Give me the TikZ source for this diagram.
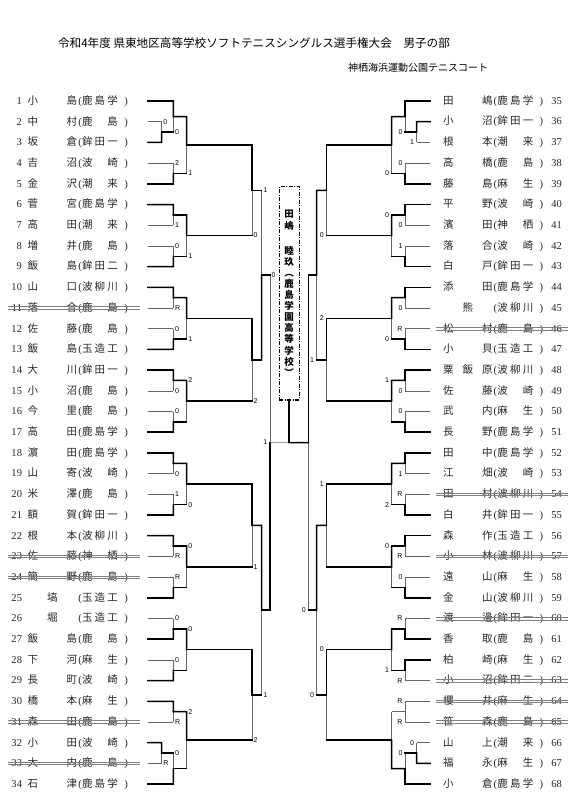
\documentclass[tikz,border=0pt]{standalone}
\usepackage{fontspec}
\setmainfont{Liberation Serif}
\setsansfont{Liberation Sans}
\newfontfamily\jp{Noto Sans CJK JP}
\usetikzlibrary{positioning, calc}

% entry text, left and right half
\newcommand\lent[5]{\makebox[140pt][l]{\makebox[14pt][r]{\rmfamily #1}\hspace{5pt}\makebox[12pt]{#2}\makebox[27pt]{#3}\makebox[12pt]{#4}\makebox[4pt]{\rmfamily(}\makebox[36pt][s]{#5}\hspace{6pt}\makebox[4pt]{\rmfamily)}}}
\newcommand\rent[5]{\makebox[140pt][l]{\hspace*{12pt}\makebox[12pt]{#2}\makebox[27pt]{#3}\makebox[12pt]{#4}\makebox[4pt]{\rmfamily(}\makebox[36pt][s]{#5}\hspace{6pt}\makebox[4pt]{\rmfamily)}\hspace{8pt}\makebox[14pt][l]{\rmfamily #1}}}

% one match: top, bottom, column, result, top style, bottom style, winner (t/b/n), score corner, score
\newcommand\bout[9]{%
  \coordinate (#4t) at (#1 -| #3);
  \coordinate (#4b) at (#2 -| #3);
  \coordinate (#4) at ($(#4t)!.5!(#4b)$);
  \draw[lose] (#4t) -- (#4b);
  \draw[#5] (#1) -- (#4t);
  \draw[#6] (#2) -- (#4b);
  \if t#7\draw[win] (#1) -- (#4t) -- (#4);\fi
  \if b#7\draw[win] (#2) -- (#4b) -- (#4);\fi
  \node[sc] (#4s) at (#4#8) {#9};
}

\begin{document}
\begin{tikzpicture}[x=1pt, y=-1pt,
        node distance=0pt,
        entry/.style={inner sep=0pt, minimum height=20.3pt, font=\jp\fontsize{10.5}{12}\selectfont, text=black!85},
        win/.style={line width=1.5pt, line cap=rect},
        lose/.style={line width=0.6pt, black!60},
        strike/.style={line width=0.5pt, black!50},
        scl/.style={font=\sffamily\fontsize{7}{8}\selectfont, anchor=west, inner sep=0pt, xshift=1.5pt},
        scr/.style={font=\sffamily\fontsize{7}{8}\selectfont, anchor=east, inner sep=0pt, xshift=-2.5pt},
        sc/.style={scl},
        champbox/.style={draw, line width=1.1pt, dash pattern=on 4pt off 1.5pt on 1pt off 1.5pt, minimum width=20pt, minimum height=213.3pt, inner sep=0pt, align=center, font=\jp\bfseries\fontsize{9.5}{11.1}\selectfont}
    ]
    \useasboundingbox[fill=white] (0,0) rectangle (586,800);

    % Heading
    \node[font=\jp\fontsize{11.6}{13}\selectfont] (title) at (254,43.3) {令和4年度 県東地区高等学校ソフトテニスシングルス選手権大会　男子の部};
    \node[font=\jp\fontsize{10}{12}\selectfont] (venue) at (418,68) {神栖海浜運動公園テニスコート};

    % Columns
    \coordinate (ca) at (161.7,0);
    \coordinate (cb) at (173.3,0);
    \coordinate (cc) at (186.7,0);
    \coordinate (cd) at (252,0);
    \coordinate (ce) at (261.7,0);
    \coordinate (cf) at (270,0);
    \coordinate (ra) at (416.7,0);
    \coordinate (rb) at (405.1,0);
    \coordinate (rc) at (391.7,0);
    \coordinate (rd) at (326.4,0);
    \coordinate (re) at (316.7,0);
    \coordinate (rf) at (308.4,0);

    % Left half
    \node[entry] (p1) at (78,101) {\lent{1}{小}{}{島}{鹿 島 学}};
    \node[entry, below=of p1] (p2) {\lent{2}{中}{}{村}{鹿 島}};
    \node[entry, below=of p2] (p3) {\lent{3}{坂}{}{倉}{鉾 田 一}};
    \node[entry, below=of p3] (p4) {\lent{4}{吉}{}{沼}{波 崎}};
    \node[entry, below=of p4] (p5) {\lent{5}{金}{}{沢}{潮 来}};
    \node[entry, below=of p5] (p6) {\lent{6}{菅}{}{宮}{鹿 島 学}};
    \node[entry, below=of p6] (p7) {\lent{7}{高}{}{田}{潮 来}};
    \node[entry, below=of p7] (p8) {\lent{8}{増}{}{井}{鹿 島}};
    \node[entry, below=of p8] (p9) {\lent{9}{飯}{}{島}{鉾 田 二}};
    \node[entry, below=of p9] (p10) {\lent{10}{山}{}{口}{波 柳 川}};
    \node[entry, below=of p10] (p11) {\lent{11}{落}{}{合}{鹿 島}};
    \node[entry, below=of p11] (p12) {\lent{12}{佐}{}{藤}{鹿 島}};
    \node[entry, below=of p12] (p13) {\lent{13}{飯}{}{島}{玉 造 工}};
    \node[entry, below=of p13] (p14) {\lent{14}{大}{}{川}{鉾 田 一}};
    \node[entry, below=of p14] (p15) {\lent{15}{小}{}{沼}{鹿 島}};
    \node[entry, below=of p15] (p16) {\lent{16}{今}{}{里}{鹿 島}};
    \node[entry, below=of p16] (p17) {\lent{17}{高}{}{田}{鹿 島 学}};
    \node[entry, below=of p17] (p18) {\lent{18}{濵}{}{田}{鹿 島 学}};
    \node[entry, below=of p18] (p19) {\lent{19}{山}{}{寄}{波 崎}};
    \node[entry, below=of p19] (p20) {\lent{20}{米}{}{澤}{鹿 島}};
    \node[entry, below=of p20] (p21) {\lent{21}{額}{}{賀}{鉾 田 一}};
    \node[entry, below=of p21] (p22) {\lent{22}{根}{}{本}{波 柳 川}};
    \node[entry, below=of p22] (p23) {\lent{23}{佐}{}{藤}{神 栖}};
    \node[entry, below=of p23] (p24) {\lent{24}{簡}{}{野}{鹿 島}};
    \node[entry, below=of p24] (p25) {\lent{25}{}{塙}{}{玉 造 工}};
    \node[entry, below=of p25] (p26) {\lent{26}{}{堀}{}{玉 造 工}};
    \node[entry, below=of p26] (p27) {\lent{27}{飯}{}{島}{鹿 島}};
    \node[entry, below=of p27] (p28) {\lent{28}{下}{}{河}{麻 生}};
    \node[entry, below=of p28] (p29) {\lent{29}{長}{}{町}{波 崎}};
    \node[entry, below=of p29] (p30) {\lent{30}{橋}{}{本}{麻 生}};
    \node[entry, below=of p30] (p31) {\lent{31}{森}{}{田}{鹿 島}};
    \node[entry, below=of p31] (p32) {\lent{32}{小}{}{田}{波 崎}};
    \node[entry, below=of p32] (p33) {\lent{33}{大}{}{内}{鹿 島}};
    \node[entry, below=of p33] (p34) {\lent{34}{石}{}{津}{鹿 島 学}};

    % Right half
    \node[entry] (p35) at (500.4,101) {\rent{35}{田}{}{嶋}{鹿 島 学}};
    \node[entry, below=of p35] (p36) {\rent{36}{小}{}{沼}{鉾 田 一}};
    \node[entry, below=of p36] (p37) {\rent{37}{根}{}{本}{潮 来}};
    \node[entry, below=of p37] (p38) {\rent{38}{高}{}{橋}{鹿 島}};
    \node[entry, below=of p38] (p39) {\rent{39}{藤}{}{島}{麻 生}};
    \node[entry, below=of p39] (p40) {\rent{40}{平}{}{野}{波 崎}};
    \node[entry, below=of p40] (p41) {\rent{41}{濱}{}{田}{神 栖}};
    \node[entry, below=of p41] (p42) {\rent{42}{落}{}{合}{波 崎}};
    \node[entry, below=of p42] (p43) {\rent{43}{白}{}{戸}{鉾 田 一}};
    \node[entry, below=of p43] (p44) {\rent{44}{添}{}{田}{鹿 島 学}};
    \node[entry, below=of p44] (p45) {\rent{45}{}{熊}{}{波 柳 川}};
    \node[entry, below=of p45] (p46) {\rent{46}{松}{}{村}{鹿 島}};
    \node[entry, below=of p46] (p47) {\rent{47}{小}{}{貝}{玉 造 工}};
    \node[entry, below=of p47] (p48) {\rent{48}{粟}{飯}{原}{波 柳 川}};
    \node[entry, below=of p48] (p49) {\rent{49}{佐}{}{藤}{波 崎}};
    \node[entry, below=of p49] (p50) {\rent{50}{武}{}{内}{麻 生}};
    \node[entry, below=of p50] (p51) {\rent{51}{長}{}{野}{鹿 島 学}};
    \node[entry, below=of p51] (p52) {\rent{52}{田}{}{中}{鹿 島 学}};
    \node[entry, below=of p52] (p53) {\rent{53}{江}{}{畑}{波 崎}};
    \node[entry, below=of p53] (p54) {\rent{54}{田}{}{村}{波 柳 川}};
    \node[entry, below=of p54] (p55) {\rent{55}{白}{}{井}{鉾 田 一}};
    \node[entry, below=of p55] (p56) {\rent{56}{森}{}{作}{玉 造 工}};
    \node[entry, below=of p56] (p57) {\rent{57}{小}{}{林}{波 柳 川}};
    \node[entry, below=of p57] (p58) {\rent{58}{遠}{}{山}{麻 生}};
    \node[entry, below=of p58] (p59) {\rent{59}{金}{}{山}{波 柳 川}};
    \node[entry, below=of p59] (p60) {\rent{60}{渡}{}{邊}{鉾 田 一}};
    \node[entry, below=of p60] (p61) {\rent{61}{香}{}{取}{鹿 島}};
    \node[entry, below=of p61] (p62) {\rent{62}{柏}{}{崎}{麻 生}};
    \node[entry, below=of p62] (p63) {\rent{63}{小}{}{沼}{鉾 田 二}};
    \node[entry, below=of p63] (p64) {\rent{64}{櫻}{}{井}{麻 生}};
    \node[entry, below=of p64] (p65) {\rent{65}{笹}{}{森}{鹿 島}};
    \node[entry, below=of p65] (p66) {\rent{66}{山}{}{上}{潮 来}};
    \node[entry, below=of p66] (p67) {\rent{67}{福}{}{永}{麻 生}};
    \node[entry, below=of p67] (p68) {\rent{68}{小}{}{倉}{鹿 島 学}};

    % Withdrawn players
    \foreach \n in {11,23,24,31,33}
        \draw[strike] ([yshift=1.3pt]p\n.west) -- ([xshift=-8pt,yshift=1.3pt]p\n.east)
                      ([yshift=-1.3pt]p\n.west) -- ([xshift=-8pt,yshift=-1.3pt]p\n.east);
    \foreach \n in {46,54,57,60,63,64,65}
        \draw[strike] ([xshift=5.6pt,yshift=1.3pt]p\n.west) -- ([xshift=-2.4pt,yshift=1.3pt]p\n.east)
                      ([xshift=5.6pt,yshift=-1.3pt]p\n.west) -- ([xshift=-2.4pt,yshift=-1.3pt]p\n.east);

    % Champion
    \node[champbox] (champ) at (289.2,293.3) {田\\嶋\\[14pt]睦\\玖\\︵\\鹿\\島\\学\\園\\高\\等\\学\\校\\︶};

    % Left bracket, block 1-9
    \bout{p2}{p3}{ca}{a1}{lose}{win}{b}{t}{0}
    \bout{p1}{a1}{cb}{a2}{win}{win}{t}{b}{0}
    \bout{p4}{p5}{cb}{a3}{lose}{win}{b}{t}{2}
    \bout{a2}{a3}{cc}{a4}{win}{win}{t}{b}{1}
    \bout{p6}{p7}{cb}{a5}{win}{lose}{t}{b}{1}
    \bout{p8}{p9}{cb}{a6}{lose}{win}{b}{t}{0}
    \bout{a5}{a6}{cc}{a7}{win}{win}{t}{b}{1}
    \bout{a4}{a7}{cd}{a8}{win}{win}{t}{b}{0}
    % block 10-17
    \bout{p10}{p11}{cb}{b1}{win}{lose}{t}{b}{R}
    \bout{p12}{p13}{cb}{b2}{lose}{win}{b}{t}{0}
    \bout{b1}{b2}{cc}{b3}{win}{win}{t}{b}{1}
    \bout{p14}{p15}{cb}{b4}{win}{lose}{t}{b}{0}
    \bout{p16}{p17}{cb}{b5}{lose}{win}{b}{t}{0}
    \bout{b4}{b5}{cc}{b6}{win}{win}{t}{t}{2}
    \bout{b3}{b6}{cd}{b7}{win}{win}{t}{b}{2}
    \bout{a8}{b7}{ce}{h1}{win}{win}{b}{t}{1}
    % block 18-25
    \bout{p18}{p19}{cb}{c1}{win}{lose}{t}{b}{0}
    \bout{p20}{p21}{cb}{c2}{lose}{win}{b}{t}{1}
    \bout{c1}{c2}{cc}{c3}{win}{win}{t}{b}{0}
    \bout{p22}{p23}{cb}{c4}{win}{lose}{t}{b}{R}
    \bout{p24}{p25}{cb}{c5}{lose}{win}{b}{t}{R}
    \bout{c4}{c5}{cc}{c6}{win}{win}{t}{t}{0}
    \bout{c3}{c6}{cd}{c7}{win}{win}{t}{b}{1}
    % block 26-34
    \bout{p26}{p27}{cb}{d1}{lose}{win}{b}{t}{0}
    \bout{p28}{p29}{cb}{d2}{lose}{win}{b}{t}{0}
    \bout{d1}{d2}{cc}{d3}{win}{win}{t}{t}{0}
    \bout{p30}{p31}{cb}{d4}{win}{lose}{t}{b}{R}
    \bout{p32}{p33}{ca}{d5}{win}{lose}{t}{b}{R}
    \bout{d5}{p34}{cb}{d6}{win}{win}{b}{t}{0}
    \bout{d4}{d6}{cc}{d7}{win}{win}{t}{t}{2}
    \bout{d3}{d7}{cd}{d8}{win}{win}{t}{b}{2}
    \bout{c7}{d8}{ce}{h2}{win}{win}{t}{b}{1}
    \bout{h1}{h2}{cf}{lf}{win}{win}{b}{t}{0}

    % Right bracket
    \tikzset{sc/.style={scr}}
    % block 35-43
    \bout{p36}{p37}{ra}{e1}{win}{lose}{t}{b}{1}
    \bout{p35}{e1}{rb}{e2}{win}{win}{t}{b}{0}
    \bout{p38}{p39}{rb}{e3}{lose}{win}{b}{t}{0}
    \bout{e2}{e3}{rc}{e4}{win}{win}{t}{b}{0}
    \bout{p40}{p41}{rb}{e5}{win}{lose}{t}{b}{0}
    \bout{p42}{p43}{rb}{e6}{lose}{win}{b}{t}{1}
    \bout{e5}{e6}{rc}{e7}{win}{win}{t}{t}{0}
    \bout{e4}{e7}{rd}{e8}{win}{win}{t}{b}{0}
    % block 44-51
    \bout{p44}{p45}{rb}{f1}{win}{lose}{t}{b}{0}
    \bout{p46}{p47}{rb}{f2}{lose}{win}{b}{t}{R}
    \bout{f1}{f2}{rc}{f3}{win}{win}{t}{b}{0}
    \bout{p48}{p49}{rb}{f4}{win}{lose}{t}{b}{0}
    \bout{p50}{p51}{rb}{f5}{lose}{win}{b}{t}{0}
    \bout{f4}{f5}{rc}{f6}{win}{win}{t}{t}{1}
    \bout{f3}{f6}{rd}{f7}{win}{win}{t}{t}{2}
    \bout{e8}{f7}{re}{k1}{win}{win}{t}{b}{1}
    % block 52-59
    \bout{p52}{p53}{rb}{g1}{win}{lose}{t}{b}{1}
    \bout{p54}{p55}{rb}{g2}{lose}{win}{b}{t}{R}
    \bout{g1}{g2}{rc}{g3}{win}{win}{t}{b}{2}
    \bout{p56}{p57}{rb}{g4}{win}{lose}{t}{b}{R}
    \bout{p58}{p59}{rb}{g5}{lose}{win}{b}{t}{0}
    \bout{g4}{g5}{rc}{g6}{win}{win}{t}{t}{0}
    \bout{g3}{g6}{rd}{g7}{win}{win}{t}{t}{1}
    % block 60-68
    \bout{p60}{p61}{rb}{q1}{lose}{win}{b}{t}{R}
    \bout{p62}{p63}{rb}{q2}{win}{lose}{t}{b}{R}
    \bout{q1}{q2}{rc}{q3}{win}{win}{t}{b}{1}
    \bout{p64}{p65}{rb}{q4}{lose}{lose}{n}{t}{R}
    \node[sc] (q4s2) at (q4b) {R};
    \bout{p66}{p67}{ra}{q5}{lose}{win}{b}{t}{0}
    \bout{q5}{p68}{rb}{q6}{win}{win}{b}{t}{0}
    \bout{q4}{q6}{rc}{q7}{lose}{win}{b}{t}{}
    \bout{q3}{q7}{rd}{q8}{win}{win}{t}{t}{0}
    \bout{g7}{q8}{re}{k2}{win}{win}{t}{b}{0}
    \bout{k1}{k2}{rf}{rf1}{win}{win}{t}{b}{0}

    % Final
    \coordinate (fin) at ($(lf)!.5!(rf1)$);
    \draw[lose] (lf) -- (fin);
    \draw[win] (fin) -- (rf1);
    \draw[win] (fin) -- (champ);
    \node[scr] (lfs) at (lf) {1};
\end{tikzpicture}
\end{document}
